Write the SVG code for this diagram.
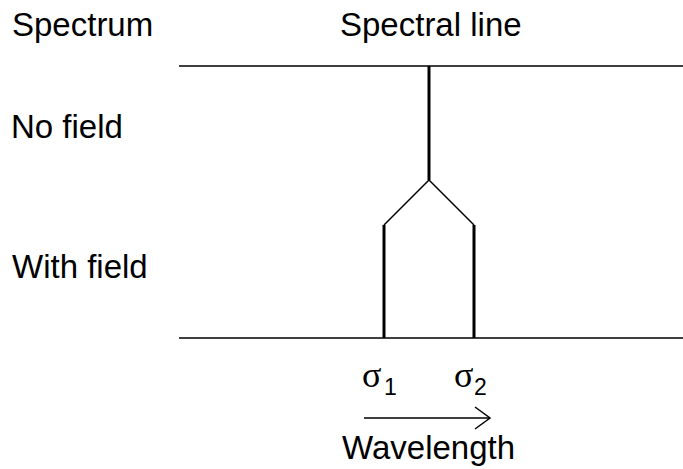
<svg xmlns="http://www.w3.org/2000/svg" width="683" height="469" viewBox="0 0 683 469">
<defs>
<style>
.t{font-family:"Liberation Sans",Arial,sans-serif;font-size:33px;fill:#000}
.s{font-family:"Liberation Serif","Times New Roman",serif;font-size:36px;fill:#000}
.sub{font-family:"Liberation Sans",Arial,sans-serif;font-size:23px;fill:#000}
.thin{stroke:#000;stroke-width:1.5;fill:none}
.thick{stroke:#000;stroke-width:3;fill:none}
</style>
</defs>
<rect width="683" height="469" fill="#fff"/>
<g id="labels">
<text class="t" x="12" y="36">Spectrum</text>
<text class="t" x="340" y="36">Spectral line</text>
<text class="t" x="11" y="138">No field</text>
<text class="t" x="12" y="278">With field</text>
</g>
<g id="connectors">
<line class="thin" x1="179" y1="66" x2="683" y2="66"/>
<line class="thin" x1="179" y1="338" x2="683" y2="338"/>
<line class="thick" x1="429" y1="66" x2="429" y2="180"/>
<polyline class="thin" points="384,225 429,180 474,225"/>
<line class="thick" x1="384" y1="225" x2="384" y2="338"/>
<line class="thick" x1="474" y1="225" x2="474" y2="338"/>
<line class="thin" x1="364" y1="418" x2="490" y2="418"/>
<polyline class="thin" points="475,407 490,418 475,429"/>
</g>
<g id="sigma1"><text class="s" x="362" y="387">σ<tspan class="sub" x="384" y="395">1</tspan></text></g>
<g id="sigma2"><text class="s" x="454" y="387">σ<tspan class="sub" x="474" y="395">2</tspan></text></g>
<g id="wavelength"><text class="t" x="342" y="459">Wavelength</text></g>
</svg>
